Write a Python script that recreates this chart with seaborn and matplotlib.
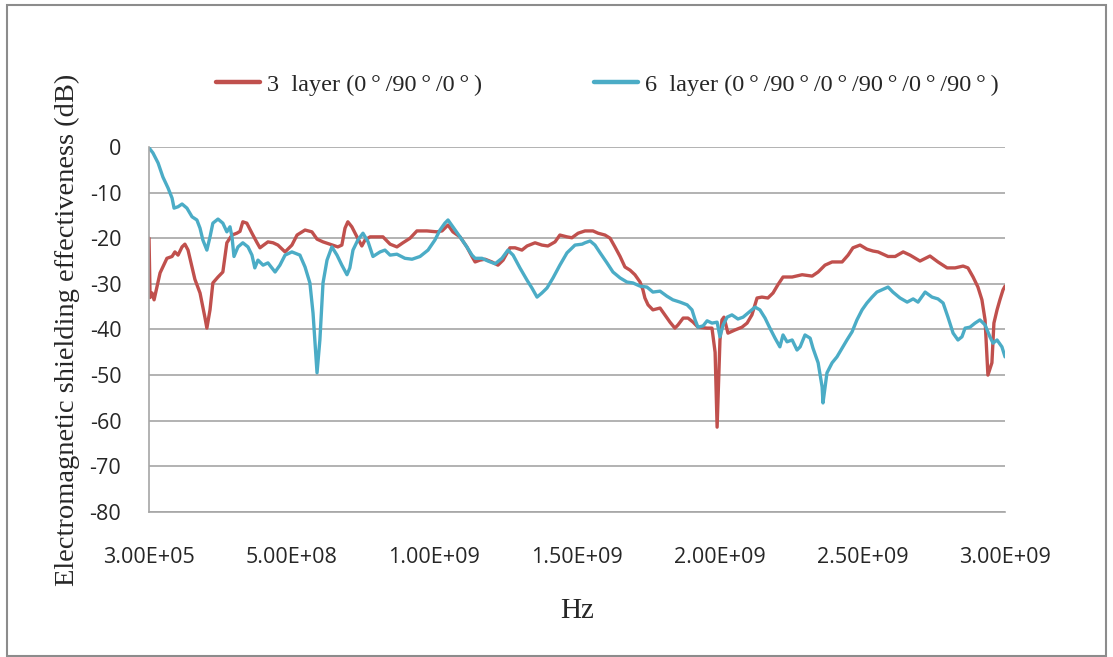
import numpy as np
import pandas as pd
import matplotlib
matplotlib.use("Agg")
import matplotlib.pyplot as plt
import seaborn as sns
from matplotlib.lines import Line2D
from matplotlib.patches import Rectangle

# 3 layer (0/90/0) - frequency in MHz, shielding in dB
freq_3 = [0.3, 4, 11, 18, 39, 63, 81, 91, 102, 116, 126, 137, 161, 179, 196, 203, 214, 224,
          242, 259, 273, 291, 308, 319, 329, 343, 361, 379, 389, 417, 435, 452, 477, 501,
          519, 547, 571, 589, 610, 634, 662, 676, 687, 697, 711, 729, 746, 757, 775, 820,
          845, 869, 890, 915, 939, 974, 1009, 1027, 1048, 1065, 1090, 1114, 1132, 1143,
          1160, 1178, 1202, 1223, 1241, 1265, 1283, 1307, 1325, 1353, 1377, 1398, 1423,
          1440, 1465, 1482, 1504, 1528, 1556, 1574, 1598, 1616, 1633, 1651, 1668, 1686,
          1703, 1721, 1731, 1738, 1749, 1766, 1791, 1808, 1826, 1843, 1854, 1872, 1889,
          1907, 1924, 1956, 1973, 1984, 1991, 2001, 2008, 2015, 2029, 2054, 2078, 2096,
          2113, 2131, 2148, 2169, 2187, 2204, 2222, 2254, 2289, 2324, 2345, 2369, 2394,
          2429, 2450, 2467, 2492, 2516, 2537, 2555, 2590, 2615, 2643, 2667, 2702, 2737,
          2765, 2797, 2825, 2853, 2870, 2888, 2905, 2919, 2930, 2937, 2940, 2954, 2961,
          2972, 2982, 2993, 3000]
se_3 = [-20, -33, -32, -33.5, -27.6, -24.4, -24, -23, -23.7, -21.9, -21.3, -22.6, -29, -32,
        -37.3, -39.7, -35.7, -29.8, -28.5, -27.4, -21, -19.3, -18.9, -18.5, -16.4, -16.7,
        -18.9, -21, -22.1, -20.8, -21, -21.5, -23, -21.5, -19.3, -18.2, -18.6, -20.2, -20.8,
        -21.3, -21.9, -21.5, -17.8, -16.4, -17.5, -19.7, -21.7, -20.4, -19.7, -19.7, -21.3,
        -21.9, -21, -20, -18.4, -18.4, -18.6, -18.4, -17.1, -18.6, -19.7, -21.9, -24, -25.2,
        -24.8, -24.6, -25.2, -25.9, -24.8, -22.1, -22.1, -22.6, -21.7, -21, -21.5, -21.7,
        -20.8, -19.3, -19.7, -19.9, -18.9, -18.4, -18.4, -18.9, -19.3, -20, -21.9, -24,
        -26.3, -27, -28, -29.6, -31.3, -33.1, -34.6, -35.7, -35.3, -36.8, -38.4, -39.7, -39,
        -37.5, -37.5, -38.4, -39.5, -39.7, -39.7, -45, -61.4, -42.3, -37.9, -37.3, -40.8,
        -40.1, -39.5, -38.6, -36.8, -33.1, -32.9, -33.1, -32, -30.2, -28.5, -28.5, -28,
        -28.3, -27.4, -25.9, -25.2, -25.2, -23.7, -22.1, -21.5, -22.4, -22.8, -23, -24, -24,
        -23, -23.7, -25, -23.9, -25.2, -26.5, -26.5, -26.1, -26.5, -28.5, -30.7, -33.5,
        -37.9, -46.7, -50, -47.3, -38.6, -35.7, -33.5, -31.3, -30.5]

# 6 layer (0/90/0/90/0/90)
freq_6 = [0.3, 14, 32, 49, 67, 81, 88, 102, 116, 133, 151, 168, 179, 189, 203, 214, 224, 242,
          259, 273, 284, 291, 298, 312, 329, 347, 361, 371, 382, 400, 417, 442, 459, 477,
          501, 529, 547, 564, 575, 589, 599, 610, 624, 641, 659, 676, 694, 704, 715, 732,
          750, 768, 785, 810, 827, 845, 869, 897, 922, 950, 978, 1002, 1020, 1037, 1048,
          1065, 1090, 1114, 1132, 1143, 1167, 1188, 1213, 1237, 1258, 1276, 1300, 1325,
          1342, 1360, 1377, 1395, 1416, 1440, 1465, 1493, 1518, 1528, 1546, 1563, 1581,
          1605, 1626, 1651, 1675, 1696, 1721, 1745, 1766, 1791, 1815, 1836, 1861, 1886,
          1903, 1914, 1924, 1942, 1956, 1973, 1991, 2001, 2012, 2026, 2043, 2064, 2082,
          2099, 2124, 2141, 2159, 2176, 2194, 2211, 2222, 2236, 2254, 2271, 2282, 2299,
          2317, 2327, 2345, 2359, 2362, 2376, 2394, 2411, 2429, 2446, 2464, 2481, 2499,
          2516, 2534, 2551, 2569, 2590, 2607, 2632, 2657, 2678, 2695, 2720, 2744, 2765,
          2783, 2800, 2818, 2835, 2849, 2860, 2877, 2895, 2912, 2930, 2947, 2958, 2972,
          2989, 3000]
se_6 = [-0.2, -1.3, -3.5, -6.6, -9, -11.2, -13.4, -13.1, -12.5, -13.4, -15.3, -16, -17.8,
        -20.4, -22.6, -19.7, -16.7, -15.8, -16.7, -18.6, -17.5, -19.7, -24, -21.9, -21,
        -21.9, -23.7, -26.5, -24.8, -25.9, -25.4, -27.4, -25.9, -23.7, -23, -23.7, -26.3,
        -29.8, -36.4, -49.5, -42.3, -29.8, -24.8, -21.9, -23.7, -25.9, -28, -26.5, -22.6,
        -20.4, -18.9, -20.8, -24, -23, -22.6, -23.7, -23.5, -24.4, -24.6, -24, -22.6, -20.4,
        -18.2, -16.7, -16, -17.5, -19.7, -21.9, -23.7, -24.4, -24.4, -25, -25.6, -24.4,
        -22.6, -23.7, -26.5, -29.2, -30.9, -32.9, -32, -30.9, -28.7, -25.9, -23.2, -21.5,
        -21.3, -21, -20.6, -21.5, -23.2, -25.4, -27.4, -28.7, -29.6, -29.8, -30.5, -30.7,
        -31.8, -31.6, -32.7, -33.5, -34, -34.6, -35.7, -37.9, -39.5, -39.2, -38.1, -38.6,
        -38.4, -41.6, -39, -37.3, -36.8, -37.7, -37.3, -36.4, -35.1, -35.7, -37.5, -39.7,
        -41.9, -43.8, -41.2, -42.7, -42.3, -44.5, -43.8, -41.2, -41.9, -44.1, -47.3, -52.6,
        -56.1, -49.5, -47.3, -46, -44.1, -42.3, -40.5, -37.9, -35.7, -34.2, -32.9, -31.8,
        -31.3, -30.7, -31.8, -33.1, -34, -33.3, -34, -31.8, -32.9, -33.3, -34.2, -37.3,
        -40.8, -42.3, -41.6, -39.7, -39.5, -38.6, -37.9, -39, -41.6, -43, -42.3, -43.8, -46]

labels = ["3  layer (0\u2009°\u2009/90\u2009°\u2009/0\u2009°\u2009)",
          "6  layer (0\u2009°\u2009/90\u2009°\u2009/0\u2009°\u2009/90\u2009°\u2009/0\u2009°\u2009/90\u2009°\u2009)"]
colors = ["#C0504D", "#4BACC6"]
xticks = [3.0e5, 5.0e8, 1.0e9, 1.5e9, 2.0e9, 2.5e9, 3.0e9]
yticks = [0, -10, -20, -30, -40, -50, -60, -70, -80]

df = pd.concat([
    pd.DataFrame({"Hz": np.array(freq_3) * 1e6, "SE": se_3, "series": labels[0]}),
    pd.DataFrame({"Hz": np.array(freq_6) * 1e6, "SE": se_6, "series": labels[1]}),
])

sns.set_style("white")
plt.rcParams["font.family"] = ["Liberation Serif", "DejaVu Serif"]

fig = plt.figure(figsize=(11.13, 6.57), dpi=100)
ax = fig.add_axes([0.1339, 0.2207, 0.7691, 0.5556])

sns.lineplot(data=df, x="Hz", y="SE", hue="series", palette=dict(zip(labels, colors)),
             sort=False, estimator=None, linewidth=2.4, legend=False, ax=ax)

ax.set_xlim(3.0e5, 3.0e9)
ax.set_ylim(-80, 0)
ax.set_xticks(xticks)
ax.set_xticklabels(["%.2E" % v for v in xticks], family="Open Sans", fontsize=15.5)
ax.set_yticks(yticks)
ax.set_yticklabels([str(v) for v in yticks], family="Open Sans", fontsize=15.5)
ax.tick_params(axis="x", length=0, pad=25)
ax.tick_params(axis="y", length=0, pad=20)
ax.yaxis.grid(True, color="#A6A6A6", linewidth=1.2)
ax.set_axisbelow(True)
for s in ["top", "right"]:
    ax.spines[s].set_visible(False)
for s in ["left", "bottom"]:
    ax.spines[s].set_color("#A6A6A6")
    ax.spines[s].set_linewidth(1.2)

ax.set_xlabel("Hz", fontsize=21, labelpad=22)
ax.set_ylabel("Electromagnetic shielding effectiveness (dB)", fontsize=20.5, labelpad=7)

handles = [Line2D([], [], color=c, linewidth=3.2) for c in colors]
fig.legend(handles, labels, loc="center", bbox_to_anchor=(0.546, 0.871), ncol=2,
           frameon=False, fontsize=17.5, handlelength=1.8, handletextpad=0.3,
           columnspacing=4.6)

# outer chart border
fig.patches.append(Rectangle((0.006, 0.002), 0.988, 0.99, transform=fig.transFigure,
                             fill=False, edgecolor="#8C8C8C", linewidth=1.5))

fig.savefig("out.png", dpi=100)
